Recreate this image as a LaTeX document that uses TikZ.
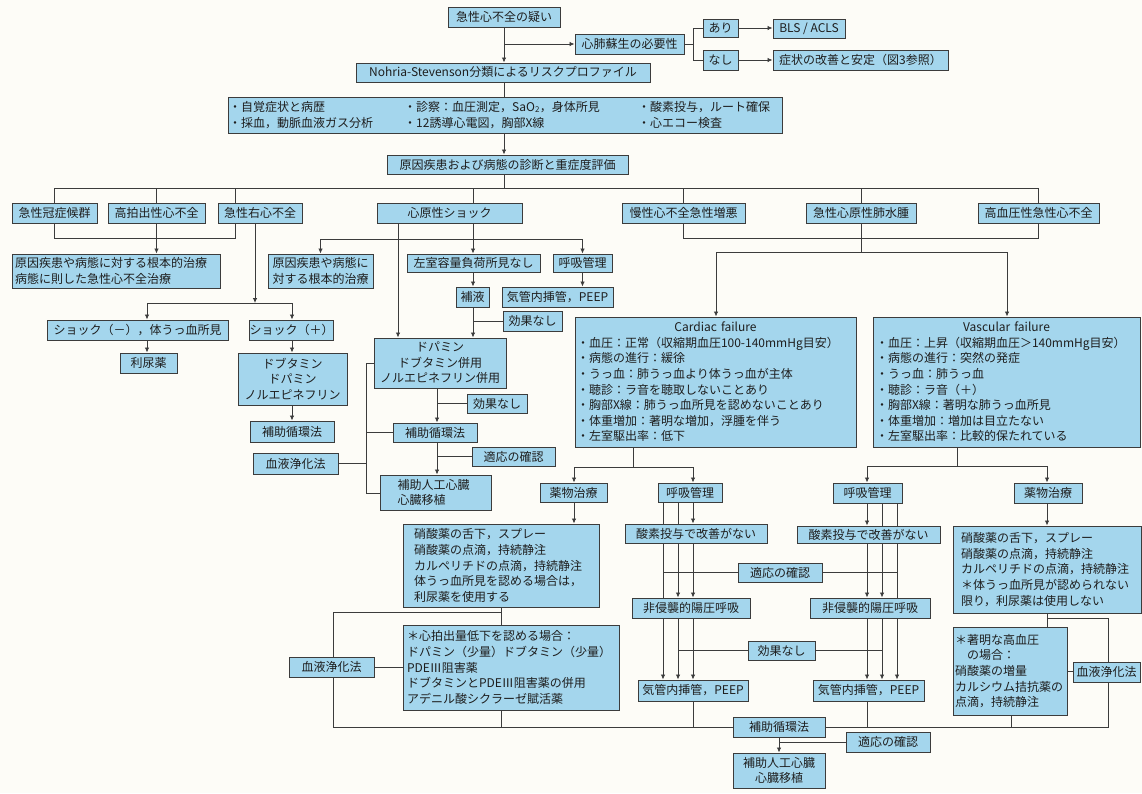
\documentclass[tikz,border=0pt]{standalone}
\usepackage{fontspec}
\setmainfont{Noto Sans CJK JP}
\usetikzlibrary{arrows.meta,backgrounds}
\definecolor{bgc}{RGB}{253,252,247}
\definecolor{bfc}{RGB}{164,214,237}
\definecolor{lnc}{RGB}{60,60,60}
\definecolor{txc}{RGB}{30,30,30}
\newcommand\myfs{\fontsize{12pt}{15.6pt}\selectfont}
\newcommand\BX[7][]{\node[bx,minimum width={(#5-#3)*1pt},minimum height={(#6-#4)*1pt},#1] (#2) at ({(#3+#5)/2},{(#4+#6)/2}) {#7};}
\begin{document}
\begin{tikzpicture}[x=1pt,y=-1pt,
 bx/.style={draw=lnc,fill=bfc,line width=1pt,inner sep=0pt,text=txc,font=\myfs,align=center},
 tx/.style={inner sep=0pt,text=txc,font=\myfs,align=left},
 ln/.style={draw=lnc,line width=0.8pt},
 ar/.style={ln,-{Latex[length=5pt,width=4.5pt]}}]
\useasboundingbox (0,0) rectangle (1142,793);
% ---------- nodes ----------
\BX{q}{448}{7}{560}{27}{急性心不全の疑い}
\BX{cpr}{575}{34}{684}{54}{心肺蘇生の必要性}
\BX{ari}{703}{19}{738}{37}{あり}
\BX{nashi}{703}{50}{738}{70}{なし}
\BX{bls}{773}{19}{845}{38}{BLS / ACLS}
\BX{stab}{773}{50}{948}{70}{症状の改善と安定（図3参照）}
\BX{ns}{356}{63}{650}{82}{Nohria-Stevenson分類によるリスクプロファイル}
\BX{exam}{228}{97}{782}{133}{}
\node[tx,anchor=west,font=\fontsize{12pt}{16.5pt}\selectfont] (ex1) at (229,115) {・自覚症状と病歴\\・採血，動脈血液ガス分析};
\node[tx,anchor=west,font=\fontsize{12pt}{16.5pt}\selectfont] (ex2) at (404,115) {・診察：血圧測定，SaO\textsubscript{2}，身体所見\\・12誘導心電図，胸部X線};
\node[tx,anchor=west,font=\fontsize{12pt}{16.5pt}\selectfont] (ex3) at (638,115) {・酸素投与，ルート確保\\・心エコー検査};
\BX{diag}{387}{155}{628}{174}{原因疾患および病態の診断と重症度評価}
\BX{acs}{12}{203}{97}{223}{急性冠症候群}
\BX{hoh}{108}{203}{205}{223}{高拍出性心不全}
\BX{rhf}{218}{203}{302}{223}{急性右心不全}
\BX{cs}{377}{203}{522}{223}{心原性ショック}
\BX{chr}{622}{203}{745}{223}{慢性心不全急性増悪}
\BX{ape}{806}{203}{916}{223}{急性心原性肺水腫}
\BX{hyp}{978}{203}{1099}{223}{高血圧性急性心不全}
\BX[text width=202pt,align=left]{root1}{12}{254}{220}{288}{原因疾患や病態に対する根本的治療\\病態に則した急性心不全治療}
\BX{root2}{268}{254}{373}{288}{原因疾患や病態に\\対する根本的治療}
\BX{shm}{47}{320}{228}{340}{ショック（－），体うっ血所見}
\BX{shp}{250}{320}{333}{340}{ショック（＋）}
\BX{diu}{120}{353}{177}{373}{利尿薬}
\BX{dob}{238}{353}{347}{405}{ドブタミン\\ドパミン\\ノルエピネフリン}
\BX{iabp1}{250}{421}{334}{442}{補助循環法}
\BX{hd1}{253}{453}{338}{474}{血液浄化法}
\BX{lv}{407}{254}{540}{272}{左室容量負荷所見なし}
\BX{resp1}{553}{254}{612}{272}{呼吸管理}
\BX{hoeki}{456}{287}{489}{307}{補液}
\BX{int1}{502}{287}{613}{307}{気管内挿管，PEEP}
\BX{ko1}{503}{311}{562}{331}{効果なし}
\BX{dop}{374}{338}{506}{388}{ドパミン\\ドブタミン併用\\ノルエピネフリン併用}
\BX{ko2}{467}{394}{527}{413}{効果なし}
\BX{iabp2}{393}{423}{477}{442}{補助循環法}
\BX{tek1}{472}{447}{555}{466}{適応の確認}
\BX[text width=76pt,align=left]{vad1}{380}{475}{491}{510}{補助人工心臓\\心臓移植}
\BX[text width=277pt,align=left]{cf}{575}{317}{856}{447}{\makebox[277pt]{Cardiac failure}\\・血圧：正常（収縮期血圧100-140mmHg目安）\\・病態の進行：緩徐\\・うっ血：肺うっ血より体うっ血が主体\\・聴診：ラ音を聴取しないことあり\\・胸部X線：肺うっ血所見を認めないことあり\\・体重増加：著明な増加，浮腫を伴う\\・左室駆出率：低下}
\BX[text width=261pt,align=left]{vf}{873}{317}{1140}{447}{\makebox[261pt]{Vascular failure}\\・血圧：上昇（収縮期血圧＞140mmHg目安）\\・病態の進行：突然の発症\\・うっ血：肺うっ血\\・聴診：ラ音（＋）\\・胸部X線：著明な肺うっ血所見\\・体重増加：増加は目立たない\\・左室駆出率：比較的保たれている}
\BX{med1}{540}{483}{607}{502}{薬物治療}
\BX{resp2}{658}{483}{722}{502}{呼吸管理}
\BX{resp3}{833}{483}{902}{503}{呼吸管理}
\BX{med2}{1014}{483}{1082}{503}{薬物治療}
\BX[text width=174pt,align=left]{nit1}{403}{524}{599}{607}{硝酸薬の舌下，スプレー\\硝酸薬の点滴，持続静注\\カルペリチドの点滴，持続静注\\体うっ血所見を認める場合は，\\利尿薬を使用する}
\BX[text width=208pt,align=left]{co1}{403}{625}{619}{710}{＊心拍出量低下を認める場合：\\ドパミン（少量）ドブタミン（少量）\\PDEⅢ阻害薬\\ドブタミンとPDEⅢ阻害薬の併用\\アデニル酸シクラーゼ賦活薬}
\BX{hd2}{289}{657}{374}{677}{血液浄化法}
\BX{oxy1}{625}{524}{767}{543}{酸素投与で改善がない}
\BX{tek2}{738}{563}{822}{582}{適応の確認}
\BX{nppv1}{632}{598}{750}{618}{非侵襲的陽圧呼吸}
\BX{ko3}{748}{641}{815}{660}{効果なし}
\BX{int2}{638}{680}{748}{701}{気管内挿管，PEEP}
\BX{oxy2}{797}{526}{940}{543}{酸素投与で改善がない}
\BX{nppv2}{810}{598}{930}{618}{非侵襲的陽圧呼吸}
\BX{int3}{813}{680}{924}{701}{気管内挿管，PEEP}
\BX[text width=172pt,align=left]{nit2}{953}{526}{1141}{613}{硝酸薬の舌下，スプレー\\硝酸薬の点滴，持続静注\\カルペリチドの点滴，持続静注\\＊体うっ血所見が認められない\\限り，利尿薬は使用しない}
\BX[text width=110pt,align=left]{sev}{953}{627}{1067}{715}{＊著明な高血圧\\　の場合：\\硝酸薬の増量\\カルシウム拮抗薬の\\点滴，持続静注}
\BX{hd3}{1073}{662}{1140}{682}{血液浄化法}
\BX{iabp3}{733}{717}{825}{737}{補助循環法}
\BX{tek3}{846}{732}{930}{752}{適応の確認}
\BX{vad2}{733}{753}{825}{788}{補助人工心臓\\心臓移植}
% ---------- connectors ----------
\begin{pgfonlayer}{background}
\fill[bgc] (0,0) rectangle (1142,793);
\coordinate (t1) at (504,44);
\draw[ln] (q.south -| t1) -- (t1);
\draw[ar] (t1) -- (ns.north -| t1);
\draw[ar] (t1) -- (cpr.west);
\coordinate (t2) at (693,44);
\draw[ln] (cpr.east) -- (t2);
\draw[ln] (ari.west) -| (t2) |- (nashi.west);
\draw[ar] (ari.east) -- (bls.west |- ari.east);
\draw[ar] (nashi.east) -- (stab.west |- nashi.east);
\draw[ln] (ns.south -| t1) -- (exam.north -| t1);
\draw[ar] (exam.south -| t1) -- (diag.north -| t1);
\coordinate (b1) at (504,188);
\draw[ln] (diag.south -| t1) -- (b1);
\draw[ln] (acs.north |- b1) -- (hyp.north |- b1);
\foreach \n in {acs,hoh,chr,ape,hyp} \draw[ln] (\n.north |- b1) -- (\n.north);
\coordinate (rx) at (235,238);
\draw[ln] (rx |- b1) -- (rhf.north -| rx);
\coordinate (cx) at (473,239);
\draw[ln] (cx |- b1) -- (cs.north -| cx);
% left branch
\draw[ln] (acs.south) |- (rx) -- (rhf.south -| rx);
\draw[ar] (hoh.south) -- (root1.north -| hoh.south);
\coordinate (r2) at (255,303);
\coordinate (r3) at (147,303);
\coordinate (r4) at (292,303);
\draw[ar] (rhf.south -| r2) -- (r2);
\draw[ln] (r3) -- (r4);
\draw[ar] (r3) -- (shm.north -| r3);
\draw[ar] (r4) -- (shp.north -| r4);
\draw[ar] (shm.south -| r3) -- (diu.north -| r3);
\draw[ar] (shp.south -| r4) -- (dob.north -| r4);
\draw[ar] (dob.south -| r4) -- (iabp1.north -| r4);
\coordinate (v1) at (366,363);
\coordinate (v2) at (366,493);
\draw[ln] (dop.west |- v1) -- (v1) -- (v2) -- (vad1.west |- v2);
\draw[ln] (iabp2.west) -- (iabp2.west -| v1);
\draw[ln] (hd1.east) -- (hd1.east -| v1);
% cardiogenic shock
\coordinate (sx) at (398,0);
\draw[ar] (cs.south -| sx) -- (dop.north -| sx);
\draw[ar] (cs.south -| cx) -- (lv.north -| cx);
\draw[ln] (root2.north |- cx) -- (resp1.north |- cx);
\draw[ar] (root2.north |- cx) -- (root2.north);
\draw[ar] (resp1.north |- cx) -- (resp1.north);
\draw[ar] (lv.south -| cx) -- (hoeki.north -| cx);
\draw[ar] (resp1.south) -- (int1.north -| resp1.south);
\draw[ar] (hoeki.south -| cx) -- (dop.north -| cx);
\draw[ln] (ko1.west) -- (ko1.west -| cx);
\coordinate (dx) at (437,0);
\draw[ar] (dop.south -| dx) -- (iabp2.north -| dx);
\draw[ln] (ko2.west) -- (ko2.west -| dx);
\draw[ar] (iabp2.south -| dx) -- (vad1.north -| dx);
\draw[ln] (tek1.west) -- (tek1.west -| dx);
% cardiac / vascular failure
\coordinate (b2) at (0,238);
\coordinate (e1) at (716,252);
\coordinate (e2) at (1007,252);
\draw[ln] (chr.south) -- (chr.south |- b2) -- (hyp.south |- b2) -- (hyp.south);
\draw[ln] (ape.south) -- (ape.south |- e1);
\draw[ln] (e1) -- (e2);
\draw[ar] (e1) -- (cf.north -| e1);
\draw[ar] (e2) -- (vf.north -| e2);
\coordinate (f0) at (633,467);
\coordinate (f1) at (574,467);
\coordinate (f2) at (693,467);
\draw[ln] (cf.south -| f0) -- (f0);
\draw[ln] (f1) -- (f2);
\draw[ar] (f1) -- (med1.north -| f1);
\draw[ar] (f2) -- (resp2.north -| f2);
\draw[ar] (med1.south -| f1) -- (nit1.north -| f1);
\coordinate (g1) at (333,612);
\coordinate (g2) at (501,612);
\coordinate (g3) at (333,727);
\draw[ln] (nit1.south -| g2) -- (co1.north -| g2);
\draw[ln] (g1) -- (g2);
\draw[ln] (g1) -- (g3) -- (iabp3.west);
\draw[ln] (hd2.east) -- (co1.west |- hd2.east);
\draw[ln] (co1.south -| g2) -- (g2 |- g3);
% respiratory, left
\coordinate (L1) at (663,0);
\coordinate (L2) at (678,0);
\coordinate (L3) at (693,0);
\draw[ar] (resp2.south -| L1) -- (int2.north -| L1);
\draw[ar] (resp2.south -| L2) -- (nppv1.north -| L2);
\draw[ar] (nppv1.south -| L2) -- (int2.north -| L2);
\draw[ar] (resp2.south -| L3) -- (oxy1.north -| L3);
\draw[ar] (oxy1.south -| L3) -- (nppv1.north -| L3);
\draw[ar] (nppv1.south -| L3) -- (int2.north -| L3);
\draw[ln] (tek2.west) -- (tek2.west -| L1);
\draw[ln] (ko3.west) -- (ko3.west -| L2);
\draw[ln] (int2.south -| L3) -- (L3 |- g3);
% respiratory / drugs, right
\coordinate (h0) at (957,466);
\coordinate (h1) at (867,466);
\coordinate (h2) at (1047,466);
\coordinate (R2) at (882,0);
\coordinate (R3) at (897,0);
\draw[ln] (vf.south -| h0) -- (h0);
\draw[ln] (h1) -- (h2);
\draw[ar] (h1) -- (resp3.north -| h1);
\draw[ar] (h2) -- (med2.north -| h2);
\draw[ar] (resp3.south -| h1) -- (oxy2.north -| h1);
\draw[ar] (oxy2.south -| h1) -- (nppv2.north -| h1);
\draw[ar] (nppv2.south -| h1) -- (int3.north -| h1);
\draw[ar] (resp3.south -| R2) -- (nppv2.north -| R2);
\draw[ar] (nppv2.south -| R2) -- (int3.north -| R2);
\draw[ar] (resp3.south -| R3) -- (int3.north -| R3);
\draw[ln] (tek2.east) -- (tek2.east -| R3);
\draw[ln] (ko3.east) -- (ko3.east -| R2);
\draw[ln] (int3.south -| h1) -- (h1 |- g3);
\draw[ar] (med2.south -| h2) -- (nit2.north -| h2);
\coordinate (k1) at (1047,618);
\coordinate (k2) at (1108,618);
\coordinate (m1) at (1011,0);
\draw[ln] (nit2.south -| h2) -- (sev.north -| h2);
\draw[ln] (k1) -- (k2) -- (k2 |- g3) -- (iabp3.east);
\draw[ln] (sev.east) -- (hd3.west |- sev.east);
\draw[ln] (sev.south -| m1) -- (m1 |- g3);
\draw[ar] (iabp3.south) -- (vad2.north);
\draw[ln] (tek3.west) -- (tek3.west -| iabp3.south);
\end{pgfonlayer}
\end{tikzpicture}
\end{document}
